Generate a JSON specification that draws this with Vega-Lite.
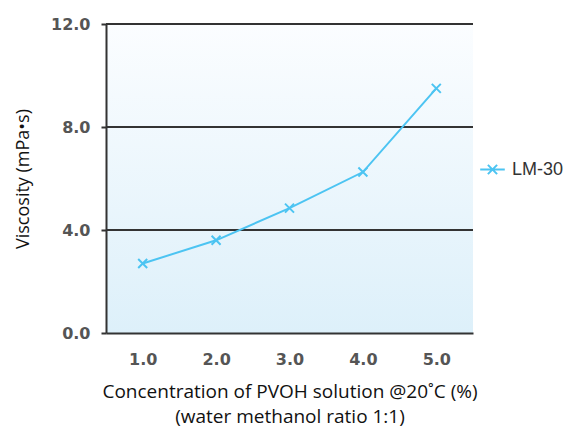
{
  "$schema": "https://vega.github.io/schema/vega-lite/v6.json",
  "width": 367,
  "height": 309,
  "autosize": {"type": "none"},
  "padding": {"left": 106, "top": 24, "right": 96, "bottom": 102},
  "background": "white",
  "config": {"view": {"stroke": null}, "font": "Open Sans"},
  "layer": [
    {
      "data": {"values": [{"bg": 1}]},
      "mark": {
        "type": "rect",
        "color": {
          "gradient": "linear",
          "x1": 0, "y1": 0, "x2": 0, "y2": 1,
          "stops": [
            {"offset": 0, "color": "#fbfdff"},
            {"offset": 1, "color": "#ddf0fa"}
          ]
        }
      },
      "encoding": {}
    },
    {
      "data": {"values": [{"visc": 4}, {"visc": 8}, {"visc": 12}]},
      "mark": {"type": "rule", "color": "#333", "strokeWidth": 2},
      "encoding": {
        "y": {"field": "visc", "type": "quantitative"}
      }
    },
    {
      "data": {"values": [
        {"conc": 1, "visc": 2.7, "series": "LM-30"},
        {"conc": 2, "visc": 3.6, "series": "LM-30"},
        {"conc": 3, "visc": 4.85, "series": "LM-30"},
        {"conc": 4, "visc": 6.25, "series": "LM-30"},
        {"conc": 5, "visc": 9.5, "series": "LM-30"}
      ]},
      "layer": [
        {
          "mark": {"type": "line", "strokeWidth": 2},
          "encoding": {
            "x": {
              "field": "conc", "type": "quantitative",
              "scale": {"domain": [0.5, 5.5], "nice": false, "zero": false},
              "axis": {
                "values": [1, 2, 3, 4, 5], "format": ".1f", "grid": false, "zindex": 1,
                "ticks": false, "tickSize": 0, "labelPadding": 18,
                "domainColor": "#333", "domainWidth": 2,
                "labelFont": "DejaVu Sans", "labelFontWeight": "bold", "labelFontSize": 16, "labelColor": "#555",
                "title": ["Concentration of PVOH solution @20˚C (%)", "(water methanol ratio 1:1)"],
                "titleFont": "Open Sans", "titleFontWeight": "normal", "titleFontSize": 19,
                "titleColor": "#111", "titlePadding": 15, "titleLineHeight": 25
              }
            },
            "y": {
              "field": "visc", "type": "quantitative",
              "scale": {"domain": [0, 12], "nice": false},
              "axis": {
                "values": [0, 4, 8, 12], "format": ".1f",
                "grid": false, "zindex": 1,
                "domainColor": "#333", "domainWidth": 2,
                "tickColor": "#333", "tickSize": 5, "tickWidth": 2, "labelPadding": 11,
                "labelFont": "DejaVu Sans", "labelFontWeight": "bold", "labelFontSize": 16, "labelColor": "#555",
                "title": "Viscosity (mPa•s)", "titleFont": "Open Sans", "titleFontWeight": "normal",
                "titleFontSize": 18, "titleColor": "#111", "titlePadding": 18
              }
            },
            "color": {
              "field": "series", "type": "nominal",
              "scale": {"domain": ["LM-30"], "range": ["#4cc4f2"]},
              "legend": {
                "title": null, "orient": "none", "legendX": 375, "legendY": 134,
                "symbolType": "M-1.2,0H1.2M-0.45,-0.45L0.45,0.45M-0.45,0.45L0.45,-0.45",
                "symbolSize": 420, "symbolStrokeWidth": 2, "symbolFillColor": "transparent",
                "labelFont": "Liberation Sans", "labelFontSize": 18, "labelColor": "#333",
                "padding": 0, "labelOffset": 8
              }
            }
          }
        },
        {
          "mark": {
            "type": "point", "shape": "M-1,-1L1,1M-1,1L1,-1", "filled": false,
            "size": 81, "strokeWidth": 2, "color": "#4cc4f2", "opacity": 1
          },
          "encoding": {
            "x": {"field": "conc", "type": "quantitative"},
            "y": {"field": "visc", "type": "quantitative"}
          }
        }
      ]
    }
  ]
}
